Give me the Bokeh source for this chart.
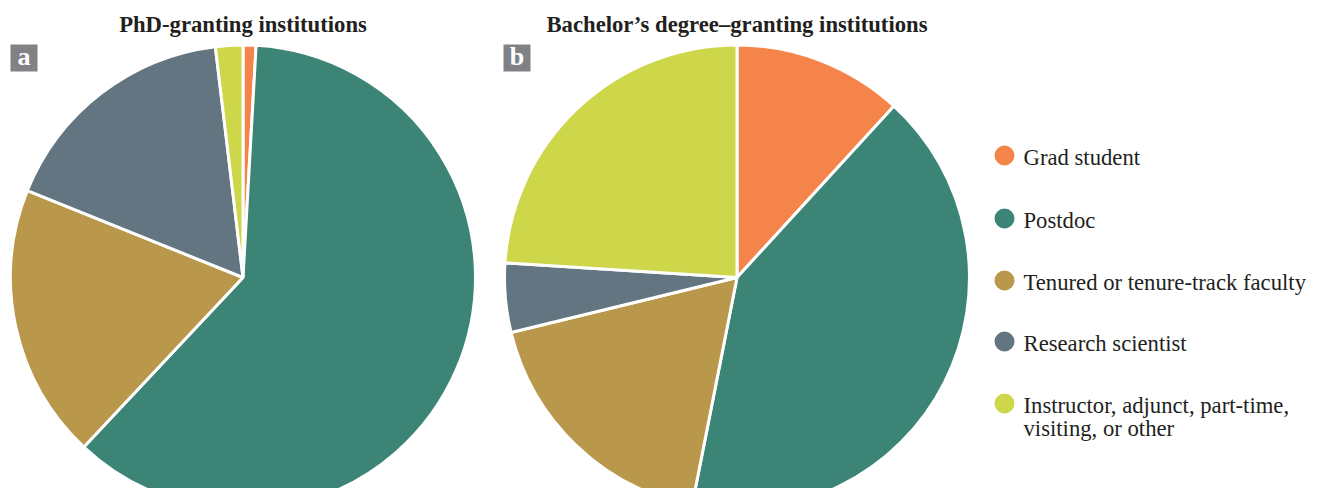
import numpy as np
from bokeh.plotting import figure
from bokeh.models import Range1d, ColumnDataSource
from bokeh.core.properties import value
from bokeh.embed import file_html
from bokeh.resources import INLINE

# ---- data ----
categories = ["Grad student", "Postdoc", "Tenured or tenure-track faculty",
              "Research scientist", "Instructor, adjunct, part-time, visiting, or other"]
legend_labels = ["Grad student", "Postdoc", "Tenured or tenure-track faculty",
                 "Research scientist", "Instructor, adjunct, part-time,\nvisiting, or other"]
colors = ["#F5844A", "#3C8576", "#B9974B", "#627580", "#CED64A"]
phd_share = [0.9, 61.1, 19.1, 17.0, 1.9]
bach_share = [11.8, 41.3, 18.1, 4.8, 24.0]
panel_titles = ["PhD-granting institutions", "Bachelor\u2019s degree\u2013granting institutions"]
panel_letters = ["a", "b"]

W, H = 1306, 488
def Y(sy):
    return 504 - sy

p = figure(width=W, height=H, x_range=Range1d(0, W), y_range=Range1d(Y(H), Y(0)),
           output_backend="svg", toolbar_location=None, min_border=0)
p.axis.visible = False
p.grid.visible = False
p.outline_line_color = None
p.background_fill_color = "white"

FONT = value("Liberation Serif")
centers_x = [242.5, 736.5]
center_y = 277
R = 232.5
TXT_SHIFT = 8  # svg text baseline compensation

for shares, cx in zip([phd_share, bach_share], centers_x):
    s = np.array(shares, dtype=float)
    cum = np.cumsum(s) / s.sum() * 2 * np.pi
    t1 = cum - s / s.sum() * 2 * np.pi
    t2 = cum
    src = ColumnDataSource(dict(start=np.pi / 2 - t2, end=np.pi / 2 - t1, color=colors,
                                cat=categories))
    p.wedge(x=cx, y=Y(center_y), radius=R, start_angle="start", end_angle="end",
            direction="anticlock", fill_color="color", line_color="white", line_width=3,
            source=src)

# titles
p.text(x=centers_x, y=[Y(32 - TXT_SHIFT)] * 2, text=panel_titles, text_font=FONT,
       text_font_size="22.7px", text_font_style="bold", text_align="center",
       text_baseline="alphabetic", text_color="#231F20")

# panel letters
box_x = [23.5, 516.5]
p.rect(x=box_x, y=[Y(57.5)] * 2, width=27, height=27, fill_color="#808285", line_color=None)
p.text(x=box_x, y=[Y(64 - TXT_SHIFT)] * 2, text=panel_letters, text_font=FONT,
       text_font_size="26px", text_font_style="bold", text_align="center",
       text_baseline="alphabetic", text_color="white")

# legend
row_y = [155, 218, 280, 341, 403]
p.scatter(x=[1004] * 5, y=[Y(v) for v in row_y], size=20, marker="circle",
          fill_color=colors, line_color=None)
lx, ly, lt = [], [], []
for lab, ry in zip(legend_labels, row_y):
    for k, line in enumerate(lab.split("\n")):
        lx.append(1023)
        ly.append(Y(ry + 10 + 23 * k - TXT_SHIFT))
        lt.append(line)
p.text(x=lx, y=ly, text=lt, text_font=FONT, text_font_size="22.7px",
       text_align="left", text_baseline="alphabetic", text_color="#231F20")

open("out.html", "w").write(file_html(p, INLINE))
